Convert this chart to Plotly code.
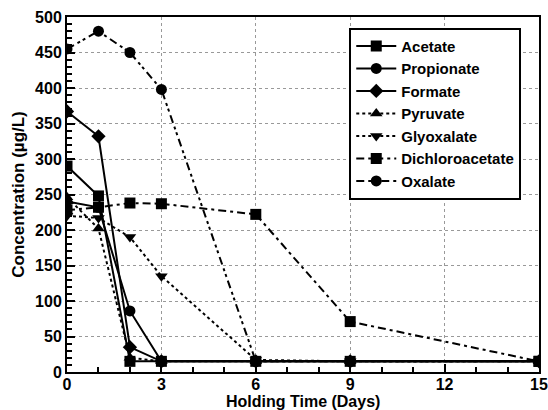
import plotly.graph_objects as go

days = [0, 1, 2, 3, 6, 9, 15]

acetate = [290, 248, 15, 15, 15, 15, 15]
propionate = [240, 232, 86, 15, 15, 15, 15]
formate = [367, 332, 35, 15, 15, 15, 15]
pyruvate = [246, 202, 20, 15, 15, 15, 15]
glyoxalate = [220, 217, 190, 135, 17, 15, 15]
dichloroacetate = [228, 232, 238, 237, 222, 71, 15]
oxalate = [455, 480, 450, 398, 15, 15, 15]

x_ticks = [0, 3, 6, 9, 12, 15]
y_ticks = list(range(0, 501, 50))

series = [
    ("Acetate", acetate, "square", "solid"),
    ("Propionate", propionate, "circle", "solid"),
    ("Formate", formate, "diamond", "solid"),
    ("Pyruvate", pyruvate, "triangle-up", "dot"),
    ("Glyoxalate", glyoxalate, "triangle-down", "dot"),
    ("Dichloroacetate", dichloroacetate, "square", "8px,4px,3px,4px"),
    ("Oxalate", oxalate, "circle", "8px,4px,3px,3px,3px,4px"),
]

fig = go.Figure()
for name, vals, sym, dash in series:
    fig.add_trace(go.Scatter(
        x=days, y=vals, name="<b>%s</b>" % name, mode="lines+markers",
        line=dict(color="black", width=2, dash=dash),
        marker=dict(symbol=sym, size=11, color="black"),
    ))

family = "Liberation Sans, Arial, sans-serif"

fig.update_layout(
    width=548, height=410,
    margin=dict(l=67, r=9, t=17, b=38),
    paper_bgcolor="white", plot_bgcolor="white",
    font=dict(family=family, color="black", size=16),
    showlegend=True,
    legend=dict(
        x=0.598, y=0.97, xanchor="left", yanchor="top",
        bgcolor="white", bordercolor="black", borderwidth=2,
        font=dict(size=15, family=family, color="black"),
        tracegroupgap=0, itemwidth=40,
    ),
)

# x-axis title placed below the tick labels
fig.add_annotation(
    text="<b>Holding Time (Days)</b>", xref="paper", yref="paper",
    x=0.5, y=0, yshift=-29, xanchor="center", yanchor="middle",
    showarrow=False, borderpad=0,
    font=dict(size=16, family=family, color="black"),
)

fig.update_xaxes(
    range=[0, 15], tickvals=x_ticks,
    ticktext=["<b>%d</b>" % v for v in x_ticks],
    tickfont=dict(size=16),
    ticks="inside", ticklen=8, tickwidth=2, tickcolor="black",
    minor=dict(dtick=1, ticks="inside", ticklen=5, tickcolor="black", showgrid=False),
    showgrid=True, gridcolor="#999999", griddash="dot", gridwidth=1,
    showline=True, linecolor="black", linewidth=2, mirror=True,
    zeroline=False, automargin=False, ticklabeloverflow="allow",
    ticklabelstandoff=-3,
)
fig.update_yaxes(
    range=[0, 500], tickvals=y_ticks,
    ticktext=["<b>%d</b>" % v for v in y_ticks],
    ticks="inside", ticklen=8, tickwidth=2, tickcolor="black",
    minor=dict(dtick=10, ticks="inside", ticklen=5, tickcolor="black", showgrid=False),
    showgrid=True, gridcolor="#999999", griddash="dot", gridwidth=1,
    showline=True, linecolor="black", linewidth=2, mirror=True,
    title=dict(text="<b>Concentration (µg/L)</b>", standoff=6, font=dict(size=17)),
    zeroline=False, automargin=False,
)

fig.write_html("out.html")
